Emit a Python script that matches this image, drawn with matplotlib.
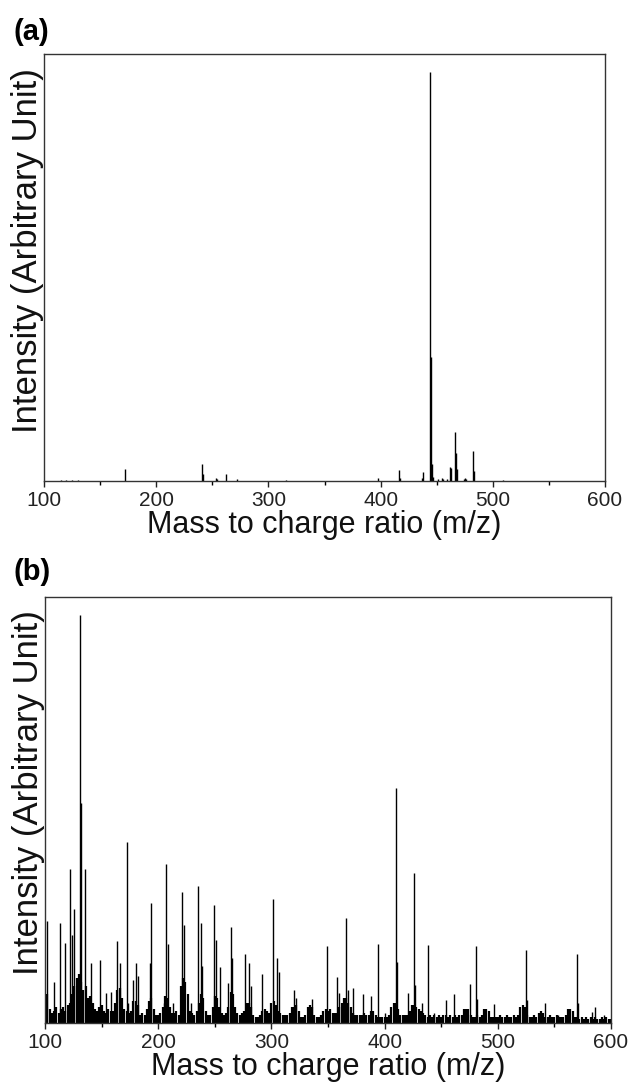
import numpy as np
import matplotlib.pyplot as plt

plt.rcParams['font.family'] = ['Liberation Sans', 'DejaVu Sans']

# ---- panel (a): clean spectrum, (m/z, relative intensity) ----
mz_a = [115, 120, 125, 130, 172, 241, 242, 253, 254, 262, 272, 316, 398, 416, 417,
        437, 438, 444, 445, 446, 447, 451, 455, 456, 459, 462, 463, 466, 467, 468,
        474, 475, 476, 482, 483, 509]
int_a = [0.3, 0.3, 0.3, 0.3, 3.0, 4.2, 1.8, 0.8, 0.6, 1.6, 0.6, 0.3, 0.8, 2.8, 0.8,
         0.8, 2.2, 100, 30.4, 4.2, 1.0, 0.6, 0.8, 0.6, 0.5, 3.3, 3.2, 12.0, 6.8, 3.0,
         0.6, 0.8, 0.5, 7.4, 2.5, 0.3]

# ---- panel (b): noisy spectrum ----
# main peaks
mz_b = [102, 108, 113, 118, 122, 124, 126, 131, 132, 135, 141, 149, 154, 158, 164,
        166, 172, 173, 178, 180, 182, 193, 194, 205, 207, 209, 213, 221, 223, 229,
        235, 238, 239, 249, 251, 255, 262, 264, 265, 277, 280, 282, 292, 301, 305,
        307, 320, 322, 336, 349, 358, 360, 366, 368, 372, 381, 388, 394, 400, 410,
        411, 421, 426, 427, 433, 438, 444, 454, 461, 475, 481, 482, 497, 525, 526,
        542, 553, 570, 571, 583, 586, 594]
int_b = [25, 10, 24.6, 19.7, 37.7, 21.6, 27.9, 100, 54, 37.7, 14.8, 15.4, 7.4, 7.6, 20.2,
         14.8, 44.4, 5, 10.5, 14.8, 11.4, 14.6, 29.3, 5, 39, 19.3, 5, 32, 24, 5,
         33.6, 24.6, 14, 29, 20.4, 13.7, 9.7, 23.6, 16, 16.9, 14.6, 9, 12, 30.3, 15.9,
         12.6, 8.2, 6, 5.8, 18.9, 11.2, 7.4, 25.7, 8, 8.6, 7, 6.7, 19.3, 2.5, 57.5,
         15, 7.4, 36.7, 9.3, 4.9, 19.1, 2.5, 5.7, 7, 9.5, 18.9, 5.8, 4.7, 17.9, 5.7,
         5, 2, 16.9, 5, 2.7, 4, 2]

# background (chemical noise) every 2 m/z from 100 to 600
mz_bg = list(range(100, 601, 2))
int_bg = [3, 7, 3.5, 2.5, 3, 4, 2.5, 3.5, 4, 3,
          4.5, 5, 7, 9, 11, 12, 10, 8, 9, 6,
          6.5, 5, 3.5, 3, 4, 4.5, 3, 2.5, 3.5, 3,
          3, 5, 8, 8.5, 6, 3.5, 3, 2.5, 3, 5.5,
          5.5, 4.5, 2, 2.5, 2, 3.5, 5.5, 6, 3.5, 2,
          2, 2.5, 4, 6.5, 6, 4, 2.5, 2.5, 3, 2,
          9, 11, 10, 7, 3, 2.5, 2, 3, 5, 7,
          6, 3, 2, 2, 4, 6.5, 6, 4, 2.5, 2,
          2.5, 4, 7.5, 7, 4, 2.5, 2, 2.5, 3, 5,
          5, 4, 2, 1.5, 1.5, 2, 3, 3.5, 3, 2.5,
          5, 5.5, 4.5, 3, 2.5, 2, 2, 2, 2.5, 4,
          4, 4.5, 3, 1.5, 1.5, 2, 4, 4.5, 4, 2,
          1.5, 1.5, 2, 3, 3.5, 3, 3.5, 2.5, 2.5, 2.5,
          4, 5, 6, 6, 5, 4, 2.5, 2, 2, 2,
          2, 2.5, 2, 2, 3, 3, 2, 1.5, 1.5, 1.5,
          1.5, 1.5, 2, 4, 5, 5, 3.5, 2, 2, 2,
          2, 3, 4.5, 4.5, 4, 3.5, 3, 2.5, 2, 1.5,
          2, 1.5, 2, 1.5, 2, 1.5, 2, 2, 1.5, 2,
          1.5, 2, 1.5, 2, 2, 3.5, 3.5, 3.5, 2, 1.5,
          1.5, 2, 1.5, 2, 3.5, 3.5, 3, 1.5, 1.5, 1.5,
          1.5, 2, 1.5, 1.5, 2, 1.5, 1.5, 2, 1.5, 2,
          4, 4.5, 4, 2, 1.5, 1.5, 2, 1.5, 2.5, 3,
          2.5, 1.5, 1.5, 2, 1.5, 1.5, 2, 1.5, 1.5, 1.5,
          2, 3.5, 3.5, 3, 1.5, 1.5, 1, 1.5, 1, 1.5,
          1, 1.5, 1, 1.5, 1, 1, 1.5, 1, 1.5, 1,
          1]

fig = plt.figure(figsize=(6.32, 10.84), dpi=100)
ax_a = fig.add_axes([0.0696, 0.5563, 0.8877, 0.3939])
ax_b = fig.add_axes([0.0712, 0.0563, 0.8956, 0.3930])

ax_a.vlines(mz_a, 0, int_a, color='black', linewidth=1.0)
ax_b.vlines(mz_bg, 0, int_bg, color='black', linewidth=1.6)
ax_b.vlines(mz_b, 0, int_b, color='black', linewidth=1.0)

for ax in (ax_a, ax_b):
    ax.set_xlim(100, 600)
    ax.set_ylim(0, 104.4)
    ax.set_xticks(range(100, 601, 100))
    ax.set_xticks(range(150, 600, 100), minor=True)
    ax.set_yticks([])
    ax.tick_params(axis='x', which='major', direction='out', length=4, width=1.0,
                   labelsize=15, pad=3, colors='#222222')
    ax.tick_params(axis='x', which='minor', direction='out', length=3, width=1.0)
    for s in ax.spines.values():
        s.set_linewidth(1.0)
        s.set_color('#333333')
    ax.set_xlabel("Mass to charge ratio (m/z)", fontsize=22, labelpad=0, color='#111111')
    ax.set_ylabel("Intensity (Arbitrary Unit)", fontsize=25, labelpad=0, color='#111111')
    # label sits a bit above the axes centre in the original
    ax.yaxis.label.set_y(0.54)

fig.text(0.0206, 0.9705, "(a)", fontsize=21, fontweight='bold', va='center', ha='left')
fig.text(0.0206, 0.4723, "(b)", fontsize=21, fontweight='bold', va='center', ha='left')

fig.savefig("out.png", dpi=100)
